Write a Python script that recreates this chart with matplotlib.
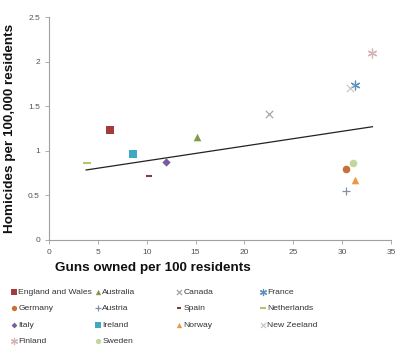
import matplotlib
matplotlib.use("Agg")
import matplotlib.pyplot as plt
import numpy as np

countries = ["England and Wales", "Australia", "Canada", "France",
             "Germany", "Austria", "Spain", "Netherlands",
             "Italy", "Ireland", "Norway", "New Zeeland",
             "Finland", "Sweden"]
guns = [6.2, 15.1, 22.5, 31.3, 30.4, 30.4, 10.2, 3.9, 12.0, 8.6, 31.3, 30.8, 33.1, 31.1]
homicides = [1.23, 1.15, 1.41, 1.74, 0.80, 0.55, 0.72, 0.86, 0.87, 0.96, 0.67, 1.70, 2.10, 0.86]

# linear trendline as drawn in the reference (endpoints)
trend_x = [3.8, 33.1]
trend_y = [0.785, 1.27]

markers = ["s", "^", "x", (6, 2, 0), "o", "+", "_", "_", "D", "s", "^", "x", (6, 2, 0), "o"]
colors = ["#a23b3a", "#7f9a48", "#a6a6a6", "#5b8fc0", "#c8703a", "#8090a8",
          "#8b3a3a", "#b8c46a", "#7a5ba0", "#3fa9c4", "#f29440", "#c8c8c8",
          "#d4b4b4", "#c3d6a0"]
sizes = [30, 30, 28, 40, 30, 30, 14, 40, 18, 30, 30, 28, 40, 30]

plt.rcParams['font.family'] = ['Liberation Sans', 'DejaVu Sans']
fig = plt.figure(figsize=(4.0, 3.54), dpi=100)
ax = fig.add_axes([49/400, 1 - 240/354, (391-49)/400, (240-17)/354])

handles = []
for c, x, y, m, col, s in zip(countries, guns, homicides, markers, colors, sizes):
    lw = 0.9 if (m in ("x", "+", "_") or isinstance(m, tuple)) else 0
    if m == "_":
        lw = 1.5
    h = ax.scatter([x], [y], marker=m, s=s, color=col, linewidths=lw, label=c, zorder=3)
    handles.append(h)

ax.plot(trend_x, trend_y, color="#222222", lw=0.9, zorder=2)

ax.set_xlim(0, 35)
ax.set_ylim(0, 2.5)
ax.set_xticks(np.arange(0, 36, 5))
ax.set_yticks([0, 0.5, 1, 1.5, 2, 2.5])
ax.set_yticklabels(["0", "0.5", "1", "1.5", "2", "2.5"])
for s in ["top", "right"]:
    ax.spines[s].set_visible(False)
for s in ["left", "bottom"]:
    ax.spines[s].set_color("#a0a0a0")
    ax.spines[s].set_linewidth(0.8)
ax.tick_params(axis="both", labelsize=6, colors="#a0a0a0", labelcolor="#555555",
               length=3, width=0.6, direction="out")

fig.text(10/400, 1 - 128/354, "Homicides per 100,000 residents", rotation=90,
         ha="center", va="center", fontsize=9.7, fontweight="bold", color="#111111")
fig.text(153/400, 1 - 268/354, "Guns owned per 100 residents",
         ha="center", va="center", fontsize=9.7, fontweight="bold", color="#111111")

col_x = [11, 95, 176, 260]
for ci in range(4):
    idx = [i for i in range(len(countries)) if i % 4 == ci]
    leg = fig.legend([handles[i] for i in idx], [countries[i] for i in idx],
                     loc="upper left", bbox_to_anchor=(col_x[ci]/400, 1 - 288/354),
                     frameon=False, fontsize=6.1, handlelength=0.6, handletextpad=0.25,
                     labelspacing=1.0, borderpad=0, borderaxespad=0,
                     scatterpoints=1, markerscale=0.7)
    for t in leg.get_texts():
        t.set_color("#333333")

fig.savefig("out.png", dpi=100, facecolor="white")
